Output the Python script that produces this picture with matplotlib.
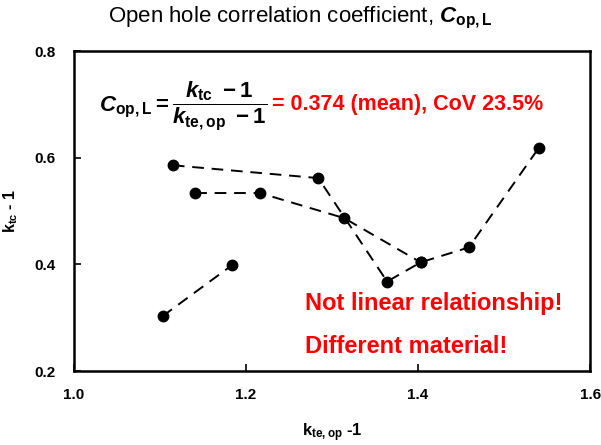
import numpy as np
import matplotlib.pyplot as plt

plt.rcParams['font.family'] = ['Liberation Sans', 'DejaVu Sans']
plt.rcParams['mathtext.fontset'] = 'custom'
plt.rcParams['mathtext.rm'] = 'Liberation Sans:bold'
plt.rcParams['mathtext.it'] = 'Liberation Sans:bold:italic'
plt.rcParams['mathtext.bf'] = 'Liberation Sans:bold'

# data
x1 = [1.115, 1.284, 1.364, 1.403, 1.459, 1.540]
y1 = [0.586, 0.562, 0.368, 0.404, 0.432, 0.618]
x2 = [1.141, 1.216, 1.314, 1.403]
y2 = [0.534, 0.534, 0.487, 0.404]
x3 = [1.103, 1.184]
y3 = [0.303, 0.399]
xticks = [1.0, 1.2, 1.4, 1.6]
yticks = [0.2, 0.4, 0.6, 0.8]

fig = plt.figure(figsize=(6.01, 4.45), dpi=100)
ax = fig.add_axes([0.123, 0.166, 0.859, 0.719])

for xs, ys in [(x1, y1), (x2, y2), (x3, y3)]:
    ax.plot(xs, ys, color='black', lw=1.4, ls=(0, (6, 4)),
            marker='o', ms=7.5, mfc='black', mec='black')

ax.set_xlim(1.0, 1.6)
ax.set_ylim(0.2, 0.8)
ax.set_xticks(xticks)
ax.set_yticks(yticks)
ax.set_xticklabels(['%.1f' % v for v in xticks], fontweight='bold', fontsize=11)
ax.set_yticklabels(['%.1f' % v for v in yticks], fontweight='bold', fontsize=11)
ax.tick_params(direction='in', length=5, width=1.2)
ax.tick_params(axis='y', pad=13)
ax.tick_params(axis='x', pad=12)
for s in ax.spines.values():
    s.set_linewidth(1.8)

ax.set_xlabel(r'k$_{\mathrm{te,op}}$ -1', fontweight='bold', fontsize=12, labelpad=14)
ax.set_ylabel(r'k$_{\mathrm{tc}}$ - 1', fontweight='bold', fontsize=11.5)
ax.yaxis.set_label_coords(-0.105, 0.5)
fig.text(0.5, 0.96, r'Open hole correlation coefficient, $\mathit{C}_{\mathrm{op,L}}$',
         fontsize=16, ha='center', va='center')

ax.text(0.048, 0.83,
        r'$\mathit{C}_{\mathrm{op,L}} = \dfrac{\mathit{k}_{\mathrm{tc}}\ -1}{\mathit{k}_{\mathrm{te,op}}\ -1}$',
        transform=ax.transAxes, fontsize=16, va='center', ha='left')
ax.text(0.383, 0.832, '= 0.374 (mean), CoV 23.5%', transform=ax.transAxes,
        fontsize=15.5, fontweight='bold', color='red', va='center', ha='left')
ax.text(0.448, 0.21, 'Not linear relationship!', transform=ax.transAxes,
        fontsize=17, fontweight='bold', color='red', va='center', ha='left')
ax.text(0.448, 0.077, 'Different material!', transform=ax.transAxes,
        fontsize=17, fontweight='bold', color='red', va='center', ha='left')

fig.savefig('out.png', dpi=100)
